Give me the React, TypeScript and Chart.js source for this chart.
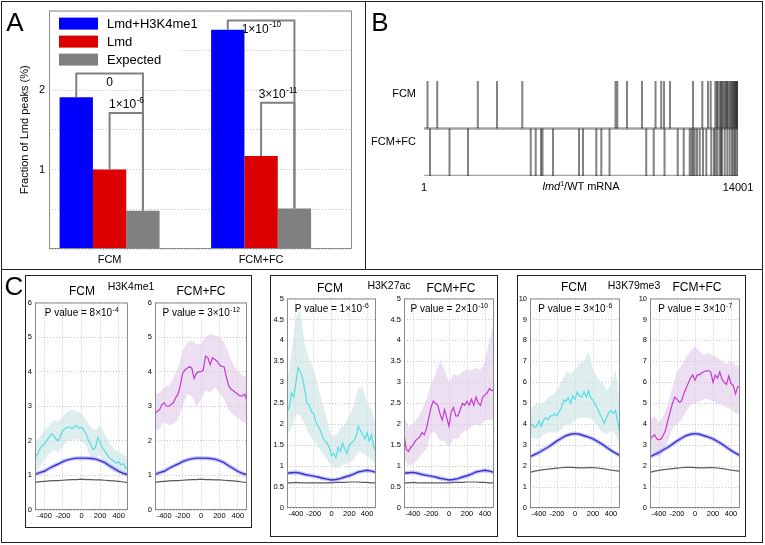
import React, { useEffect, useRef } from 'react';
import { Chart, registerables } from 'chart.js';

Chart.register(...registerables);

const FONT = '"Liberation Sans", Arial, Helvetica, sans-serif';
const GRID = '#c4c4c4';

// ---------------- Panel A data ----------------
const groupNames = ['FCM', 'FCM+FC'];
const groupPos = [1, 2];
const seriesNames = ['Lmd+H3K4me1', 'Lmd', 'Expected'];
const seriesColors = ['#0000ff', '#dd0000', '#808080'];
const fracLmdH3K4me1 = [1.91, 2.76];
const fracLmd = [1.0, 1.17];
const fracExpected = [0.48, 0.51];
const yTicksA = [1, 2];
const bracketGroup = [0, 0, 1, 1];
const bracketFrom = [0, 1, 0, 1];
const bracketTop = [2.21, 1.71, 2.875, 1.84];
const bracketBase = ['0', '1×10', '1×10', '3×10'];
const bracketExp = ['', '-6', '-10', '-11'];
const bracketBelow = [true, false, true, false];

// ---------------- Panel B data ----------------
const rowNames = ['FCM+FC', 'FCM'];
const mrnaRange = [1, 14001];
const peaksFCM = [157, 590, 2400, 3256, 4384, 8540, 8620, 9053, 9722, 10324, 10578, 10703, 10970, 11995, 12410, 12664, 12784, 12990, 13060, 13100, 13190, 13240, 13290, 13350, 13410, 13470, 13510, 13560, 13630, 13680, 13730, 13780, 13820, 13860, 13890, 13920, 13950, 13975, 14000];
const peaksFCMFC = [268, 1138, 1963, 4759, 4982, 5218, 5285, 5753, 6912, 7090, 7684, 7907, 8272, 9909, 10243, 10725, 11313, 11581, 11848, 11928, 11995, 12071, 12174, 12294, 12441, 12588, 12811, 12932, 12999, 13079, 13186, 13244, 13289, 13409, 13525, 13632, 13734, 13801, 13868, 13935, 14001];

// ---------------- Panel C data ----------------
const xTicksC = [-400, -200, 0, 200, 400];
const xMain = [-500, -475, -450, -425, -400, -375, -350, -325, -300, -275, -250, -225, -200, -175, -150, -125, -100, -75, -50, -25, 0, 25, 50, 75, 100, 125, 150, 175, 200, 225, 250, 275, 300, 325, 350, 375, 400, 425, 450, 475, 500];
const xBand = [-500, -450, -400, -350, -300, -250, -200, -150, -100, -50, 0, 50, 100, 150, 200, 250, 300, 350, 400, 450, 500];

const marks = ['H3K4me1', 'H3K27ac', 'H3K79me3'];
const pBase = ['8×10', '3×10', '1×10', '2×10', '3×10', '3×10'];
const pExp = ['-4', '-12', '-6', '-10', '-6', '-7'];

const k4Fcm = [1.5, 1.6, 1.75, 1.85, 1.9, 2.0, 2.1, 2.2, 2.15, 2.05, 2.0, 2.15, 2.3, 2.35, 2.4, 2.4, 2.35, 2.4, 2.45, 2.35, 2.4, 2.3, 2.2, 2.0, 1.9, 1.75, 1.8, 2.1, 1.95, 1.8, 1.7, 1.6, 1.5, 1.45, 1.4, 1.35, 1.4, 1.3, 1.35, 1.2, 1.25];
const k4FcmHi = [1.95, 2.1, 2.3, 2.45, 2.6, 2.55, 2.7, 2.85, 2.9, 2.85, 2.8, 2.6, 2.4, 2.3, 2.45, 2.2, 1.95, 1.75, 1.7, 1.6, 1.55];
const k4FcmLo = [1.1, 1.25, 1.45, 1.6, 1.75, 1.65, 1.85, 2.0, 2.0, 2.05, 2.0, 1.85, 1.5, 1.45, 1.6, 1.35, 1.2, 1.1, 1.1, 1.05, 1.0];
const k4Fc = [2.8, 2.85, 2.9, 3.05, 3.1, 3.0, 3.0, 3.05, 3.1, 3.25, 3.35, 3.6, 3.95, 4.05, 4.1, 4.15, 4.1, 3.8, 3.95, 4.0, 4.0, 4.05, 4.45, 4.4, 4.2, 4.4, 4.35, 4.3, 4.2, 4.15, 4.15, 3.85, 3.6, 3.5, 3.45, 3.4, 3.35, 3.3, 3.3, 3.35, 3.15];
const k4FcHi = [3.35, 3.4, 3.55, 3.6, 3.8, 4.1, 4.6, 4.85, 4.9, 4.8, 4.8, 5.0, 5.1, 5.05, 5.0, 4.85, 4.55, 4.2, 4.0, 3.9, 3.85];
const k4FcLo = [2.3, 2.35, 2.55, 2.45, 2.5, 2.6, 3.0, 3.35, 3.3, 3.0, 3.2, 3.45, 3.4, 3.55, 3.4, 3.2, 2.9, 2.75, 2.65, 2.55, 2.5];
const k4Blue = [1.03, 1.08, 1.12, 1.2, 1.27, 1.33, 1.4, 1.45, 1.48, 1.5, 1.5, 1.5, 1.49, 1.47, 1.43, 1.37, 1.28, 1.2, 1.12, 1.06, 1.02];
const k4Gray = [0.8, 0.82, 0.83, 0.84, 0.85, 0.85, 0.86, 0.87, 0.88, 0.88, 0.89, 0.88, 0.88, 0.87, 0.87, 0.86, 0.85, 0.84, 0.83, 0.81, 0.79];

const k27Fcm = [2.3, 2.4, 2.75, 2.65, 3.0, 3.35, 3.25, 3.1, 2.8, 2.5, 2.45, 2.3, 2.25, 2.05, 1.95, 1.85, 1.7, 1.6, 1.55, 1.45, 1.25, 1.3, 1.2, 1.45, 1.35, 1.55, 1.4, 1.3, 1.5, 1.55, 1.6, 1.7, 1.95, 1.85, 1.75, 1.65, 1.8, 1.6, 1.75, 1.45, 1.35];
const k27FcmHi = [3.0, 3.7, 4.55, 4.7, 3.9, 3.55, 3.3, 2.9, 2.5, 2.1, 1.7, 1.75, 1.9, 2.0, 2.2, 2.45, 2.85, 2.9, 2.5, 2.35, 2.0];
const k27FcmLo = [1.75, 1.9, 2.25, 2.2, 2.0, 1.75, 1.6, 1.45, 1.3, 1.15, 1.0, 0.95, 1.0, 1.05, 1.1, 1.15, 1.35, 1.3, 1.25, 1.15, 0.95];
const k27Fc = [1.75, 1.4, 1.35, 1.45, 1.5, 1.6, 1.65, 1.7, 1.8, 1.75, 1.9, 2.15, 2.4, 2.55, 2.5, 2.45, 2.25, 2.1, 2.35, 2.15, 1.95, 2.3, 2.4, 2.2, 2.2, 2.35, 2.5, 2.45, 2.55, 2.45, 2.6, 2.45, 2.65, 2.5, 2.45, 2.65, 2.7, 2.75, 2.85, 2.8, 2.8];
const k27FcHi = [2.2, 1.95, 2.0, 2.15, 2.35, 2.6, 2.95, 3.2, 3.5, 3.3, 3.0, 3.2, 3.15, 3.25, 3.3, 3.3, 3.35, 3.3, 3.5, 4.0, 4.5];
const k27FcLo = [1.2, 1.0, 1.05, 1.15, 1.3, 1.4, 1.8, 1.8, 1.6, 1.6, 1.45, 1.65, 1.65, 1.8, 1.85, 1.95, 2.0, 1.95, 2.1, 2.1, 2.1];
const k27Blue = [0.83, 0.84, 0.85, 0.83, 0.8, 0.78, 0.76, 0.74, 0.71, 0.69, 0.67, 0.68, 0.7, 0.74, 0.77, 0.81, 0.86, 0.88, 0.9, 0.88, 0.85];
const k27Gray = [0.6, 0.6, 0.61, 0.6, 0.6, 0.6, 0.6, 0.6, 0.6, 0.6, 0.6, 0.61, 0.61, 0.61, 0.62, 0.62, 0.62, 0.61, 0.61, 0.6, 0.6];

const k79Fcm = [3.9, 4.0, 3.85, 3.9, 4.15, 3.9, 4.2, 4.3, 4.2, 4.4, 4.4, 4.5, 4.4, 4.6, 4.8, 5.15, 5.1, 5.25, 5.0, 5.35, 5.2, 5.55, 5.35, 5.3, 5.55, 5.3, 5.6, 5.25, 5.15, 4.9, 4.75, 4.5, 4.3, 4.05, 4.3, 4.55, 4.65, 4.5, 4.65, 4.1, 3.55];
const k79FcmHi = [4.7, 4.9, 5.0, 5.0, 5.3, 5.4, 5.6, 6.0, 6.5, 6.4, 6.6, 6.9, 7.0, 7.5, 6.6, 6.2, 6.0, 5.6, 5.9, 6.6, 5.0];
const k79FcmLo = [3.4, 3.3, 3.3, 3.5, 3.6, 3.6, 3.6, 3.75, 4.0, 4.0, 4.2, 4.3, 4.3, 4.3, 4.2, 3.9, 3.6, 3.5, 3.7, 3.5, 2.9];
const k79Fc = [3.3, 3.4, 3.5, 3.3, 3.25, 3.3, 3.5, 3.75, 4.2, 4.6, 5.0, 5.3, 5.2, 5.05, 5.1, 5.45, 5.7, 5.95, 6.2, 6.35, 6.1, 6.35, 6.35, 6.45, 6.5, 6.55, 6.55, 6.5, 6.0, 6.35, 6.2, 6.5, 6.15, 6.0, 5.9, 6.3, 5.95, 5.85, 5.45, 5.8, 5.75];
const k79FcHi = [4.2, 4.4, 4.1, 4.4, 5.0, 5.8, 6.5, 6.8, 7.2, 7.5, 7.7, 7.5, 7.3, 7.4, 7.3, 7.2, 7.0, 6.9, 7.0, 6.8, 6.8];
const k79FcLo = [2.6, 2.6, 2.4, 2.7, 3.2, 3.8, 4.0, 4.2, 4.6, 4.9, 5.0, 5.1, 5.2, 5.2, 5.1, 5.0, 4.9, 4.8, 4.7, 4.5, 4.5];
const k79Blue = [2.45, 2.55, 2.65, 2.78, 2.9, 3.05, 3.2, 3.33, 3.45, 3.52, 3.55, 3.52, 3.45, 3.38, 3.3, 3.18, 3.05, 2.9, 2.75, 2.62, 2.5];
const k79Gray = [1.7, 1.76, 1.8, 1.83, 1.86, 1.88, 1.9, 1.92, 1.94, 1.94, 1.93, 1.92, 1.92, 1.93, 1.93, 1.91, 1.88, 1.85, 1.81, 1.78, 1.75];

// ---------------- helpers ----------------
const xy = (xs: number[], ys: number[]) => xs.map((x, i) => ({ x, y: ys[i] }));

function drawSupText(ctx: any, base: string, exp: string, cx: number, cy: number, size: number) {
  const es = size * 0.68;
  ctx.font = `${size}px ${FONT}`;
  const w1 = ctx.measureText(base).width;
  ctx.font = `${es}px ${FONT}`;
  const w2 = exp ? ctx.measureText(exp).width : 0;
  const x0 = cx - (w1 + w2) / 2;
  ctx.fillStyle = '#000';
  ctx.textAlign = 'left';
  ctx.textBaseline = 'middle';
  ctx.font = `${size}px ${FONT}`;
  ctx.fillText(base, x0, cy);
  if (exp) {
    ctx.font = `${es}px ${FONT}`;
    ctx.fillText(exp, x0 + w1 + 0.5, cy - size * 0.36);
  }
}

const framePlugin = (color: string) => ({
  id: 'frame',
  afterDatasetsDraw(chart: any) {
    const { ctx, chartArea: a } = chart;
    ctx.save();
    ctx.strokeStyle = color;
    ctx.lineWidth = 1;
    ctx.setLineDash([]);
    ctx.strokeRect(a.left + 0.5, a.top + 0.5, a.right - a.left - 1, a.bottom - a.top - 1);
    ctx.restore();
  },
});

const legendPlugin = {
  id: 'legendA',
  afterDatasetsDraw(chart: any) {
    const { ctx, chartArea: a } = chart;
    ctx.save();
    ctx.fillStyle = '#fff';
    ctx.fillRect(a.left + 1, a.top + 1, 131, 59);
    ctx.textBaseline = 'middle';
    ctx.textAlign = 'left';
    ctx.font = `13px ${FONT}`;
    seriesNames.forEach((name, i) => {
      const y = a.top + 7 + i * 18;
      ctx.fillStyle = seriesColors[i];
      ctx.fillRect(a.left + 10, y, 39, 12);
      ctx.fillStyle = '#000';
      ctx.fillText(name, a.left + 58, y + 6.5);
    });
    ctx.restore();
  },
};

const bracketPlugin = {
  id: 'brackets',
  afterDatasetsDraw(chart: any) {
    const { ctx } = chart;
    const ys = chart.scales.y;
    ctx.save();
    ctx.strokeStyle = '#808080';
    ctx.lineWidth = 2;
    bracketGroup.forEach((g, k) => {
      const a = chart.getDatasetMeta(bracketFrom[k]).data[g];
      const b = chart.getDatasetMeta(2).data[g];
      const yt = ys.getPixelForValue(bracketTop[k]);
      ctx.beginPath();
      ctx.moveTo(a.x, a.y);
      ctx.lineTo(a.x, yt);
      ctx.lineTo(b.x, yt);
      ctx.lineTo(b.x, b.y);
      ctx.stroke();
      const cy = bracketBelow[k] ? yt + 9 : yt - 8;
      drawSupText(ctx, bracketBase[k], bracketExp[k], (a.x + b.x) / 2, cy, 12);
    });
    ctx.restore();
  },
};

const pValuePlugin = (base: string, exp: string) => ({
  id: 'pvalue',
  afterDatasetsDraw(chart: any) {
    const { ctx, chartArea: a } = chart;
    ctx.save();
    drawSupText(ctx, 'P value = ' + base, exp, (a.left + a.right) / 2, a.top + 11, 10);
    ctx.restore();
  },
});

// ---------------- configs ----------------
function panelAConfig() {
  const values = [fracLmdH3K4me1, fracLmd, fracExpected];
  return {
    type: 'bar',
    data: {
      datasets: seriesNames.map((name, i) => ({
        label: name,
        data: groupPos.map((x, j) => ({ x, y: values[i][j] })),
        backgroundColor: seriesColors[i],
        borderWidth: 0,
        categoryPercentage: 0.66,
        barPercentage: 1,
        inflateAmount: 0,
      })),
    },
    options: {
      animation: false,
      responsive: false,
      events: [],
      layout: { padding: { left: 0, top: 9, right: 13, bottom: 0 } },
      plugins: { legend: { display: false }, tooltip: { enabled: false } },
      scales: {
        x: {
          type: 'linear', min: 0.6, max: 2.6, offset: false,
          afterBuildTicks: (s: any) => { s.ticks = groupPos.map((v) => ({ value: v })); },
          afterFit: (s: any) => { s.height = 19; },
          ticks: { autoSkip: false, maxRotation: 0, padding: 4, color: '#000', font: { size: 11, family: FONT }, callback: (_v: any, i: number) => groupNames[i] },
          grid: { display: false, offset: false, drawTicks: false },
          border: { display: false },
        },
        y: {
          type: 'linear', min: 0, max: 3,
          afterFit: (s: any) => { s.width = 49; },
          ticks: { stepSize: 0.5, padding: 4, color: '#000', font: { size: 11, family: FONT }, callback: (v: number) => (yTicksA.includes(v) ? String(v) : '') },
          grid: { color: GRID, drawTicks: false },
          border: { display: false, dash: [1, 2] },
          title: { display: true, text: 'Fraction of Lmd peaks (%)', color: '#000', font: { size: 11, family: FONT }, padding: { top: 18, bottom: 0 } },
        },
      },
    },
    plugins: [legendPlugin, bracketPlugin, framePlugin('#8c8c8c')],
  };
}

function panelBConfig() {
  const lineColor = 'rgba(40,40,40,0.58)';
  return {
    type: 'bar',
    data: {
      datasets: [
        { type: 'line', data: [{ x: mrnaRange[0], y: 1 }, { x: mrnaRange[1], y: 1 }], borderColor: '#a3a3a3', borderWidth: 2.5, pointRadius: 0, order: 5 },
        { type: 'line', data: [{ x: mrnaRange[0], y: 0 }, { x: mrnaRange[1], y: 0 }], borderColor: '#a3a3a3', borderWidth: 2.5, pointRadius: 0, order: 5 },
        { type: 'bar', data: peaksFCM.map((p) => ({ x: p, y: [1, 2] })), backgroundColor: lineColor, barThickness: 2, grouped: false, borderWidth: 0, inflateAmount: 0, order: 1 },
        { type: 'bar', data: peaksFCMFC.map((p) => ({ x: p, y: [0, 1] })), backgroundColor: lineColor, barThickness: 2, grouped: false, borderWidth: 0, inflateAmount: 0, order: 1 },
      ],
    },
    options: {
      animation: false,
      responsive: false,
      events: [],
      layout: { padding: { left: 0, top: 21, right: 24, bottom: 0 } },
      plugins: { legend: { display: false }, tooltip: { enabled: false } },
      scales: {
        x: {
          type: 'linear', min: mrnaRange[0], max: mrnaRange[1], offset: false,
          afterBuildTicks: (s: any) => { s.ticks = mrnaRange.map((v) => ({ value: v })); },
          afterFit: (s: any) => { s.height = 34; },
          ticks: { autoSkip: false, maxRotation: 0, padding: 5, color: '#000', font: { size: 11, family: FONT }, callback: (v: number) => String(v) },
          grid: { display: false, offset: false, drawTicks: false },
          border: { display: false },
        },
        y: {
          type: 'linear', min: 0, max: 2,
          afterBuildTicks: (s: any) => { s.ticks = rowNames.map((_n, i) => ({ value: i + 0.72 })); },
          afterFit: (s: any) => { s.width = 58; },
          ticks: { padding: 8, color: '#000', font: { size: 11, family: FONT }, callback: (_v: any, i: number) => rowNames[i] },
          grid: { display: false, drawTicks: false },
          border: { display: false },
        },
      },
    },
  };
}

const AXW = 24, PADT = 7, PADR = 6, AXH = 14;

function profileConfig(p: any) {
  const thin = { pointRadius: 0, tension: 0, fill: false };
  return {
    type: 'line',
    data: {
      datasets: [
        { ...thin, data: xy(xBand, p.lo), borderWidth: 0, borderColor: 'rgba(0,0,0,0)', order: 10 },
        { ...thin, data: xy(xBand, p.hi), borderWidth: 0, borderColor: 'rgba(0,0,0,0)', backgroundColor: p.band, fill: '-1', order: 9 },
        { ...thin, data: xy(xBand, p.gray), borderColor: '#5a5a5a', borderWidth: 1.2, order: 4 },
        { ...thin, data: xy(xBand, p.blue), borderColor: 'rgba(150,150,245,0.55)', borderWidth: 4, order: 3 },
        { ...thin, data: xy(xBand, p.blue), borderColor: '#3434cc', borderWidth: 1.4, order: 2 },
        { ...thin, data: xy(xMain, p.main), borderColor: p.color, borderWidth: 1.2, order: 1 },
      ],
    },
    options: {
      animation: false,
      responsive: false,
      events: [],
      layout: { padding: { left: 0, top: PADT, right: PADR, bottom: 0 } },
      plugins: { legend: { display: false }, tooltip: { enabled: false } },
      scales: {
        x: {
          type: 'linear', min: -500, max: 500,
          afterBuildTicks: (s: any) => { s.ticks = xTicksC.map((v) => ({ value: v })); },
          afterFit: (s: any) => { s.height = AXH; },
          ticks: { autoSkip: false, maxRotation: 0, padding: 1, color: '#000', font: { size: 7.5, family: FONT }, callback: (v: number) => String(v) },
          grid: { color: GRID, drawTicks: false },
          border: { display: false, dash: [1, 2] },
        },
        y: {
          type: 'linear', min: 0, max: p.yMax,
          afterFit: (s: any) => { s.width = AXW; },
          ticks: { stepSize: p.yStep, padding: 3, color: '#000', font: { size: 7.5, family: FONT }, callback: (v: number) => String(v) },
          grid: { color: GRID, drawTicks: false },
          border: { display: false, dash: [1, 2] },
        },
      },
    },
    plugins: [pValuePlugin(p.pb, p.pe), framePlugin('#8a8a8a')],
  };
}

const CYAN = '#55dde2', CYAN_BAND = 'rgba(200,226,226,0.6)';
const MAG = '#c33ccf', MAG_BAND = 'rgba(222,196,232,0.55)';

const profiles = [
  { L: 35, T: 302, R: 128, B: 510, yMax: 6, yStep: 1, main: k4Fcm, hi: k4FcmHi, lo: k4FcmLo, blue: k4Blue, gray: k4Gray, color: CYAN, band: CYAN_BAND, pb: pBase[0], pe: pExp[0] },
  { L: 155, T: 302, R: 247, B: 510, yMax: 6, yStep: 1, main: k4Fc, hi: k4FcHi, lo: k4FcLo, blue: k4Blue, gray: k4Gray, color: MAG, band: MAG_BAND, pb: pBase[1], pe: pExp[1] },
  { L: 287, T: 298, R: 376, B: 508, yMax: 5, yStep: 0.5, main: k27Fcm, hi: k27FcmHi, lo: k27FcmLo, blue: k27Blue, gray: k27Gray, color: CYAN, band: CYAN_BAND, pb: pBase[2], pe: pExp[2] },
  { L: 404, T: 298, R: 494, B: 508, yMax: 5, yStep: 0.5, main: k27Fc, hi: k27FcHi, lo: k27FcLo, blue: k27Blue, gray: k27Gray, color: MAG, band: MAG_BAND, pb: pBase[3], pe: pExp[3] },
  { L: 530, T: 298, R: 620, B: 508, yMax: 10, yStep: 1, main: k79Fcm, hi: k79FcmHi, lo: k79FcmLo, blue: k79Blue, gray: k79Gray, color: CYAN, band: CYAN_BAND, pb: pBase[4], pe: pExp[4] },
  { L: 650, T: 298, R: 740, B: 508, yMax: 10, yStep: 1, main: k79Fc, hi: k79FcHi, lo: k79FcLo, blue: k79Blue, gray: k79Gray, color: MAG, band: MAG_BAND, pb: pBase[5], pe: pExp[5] },
];

// ---------------- components ----------------
function ChartCanvas({ x, y, w, h, build }: { x: number; y: number; w: number; h: number; build: () => any }) {
  const ref = useRef<HTMLCanvasElement | null>(null);
  useEffect(() => {
    if (!ref.current) return;
    const chart = new Chart(ref.current, build());
    return () => chart.destroy();
  }, []);
  return <canvas ref={ref} width={w} height={h} style={{ position: 'absolute', left: x, top: y, width: w, height: h }} />;
}

function Rect({ x, y, w, h }: { x: number; y: number; w: number; h: number }) {
  return <div style={{ position: 'absolute', left: x, top: y, width: w, height: h, border: '1px solid #222', boxSizing: 'border-box', pointerEvents: 'none' }} />;
}

function Line({ x, y, w, h }: { x: number; y: number; w: number; h: number }) {
  return <div style={{ position: 'absolute', left: x, top: y, width: w, height: h, background: '#222', pointerEvents: 'none' }} />;
}

function Txt({ x, y, size, children }: { x: number; y: number; size: number; children: any }) {
  return (
    <div style={{ position: 'absolute', left: x, top: y, transform: 'translate(-50%,-50%)', fontFamily: FONT, fontSize: size, lineHeight: 1, whiteSpace: 'nowrap', color: '#000' }}>
      {children}
    </div>
  );
}

const boxTitles = [
  { f1: 82, f2: 201, m: 131, y: 291, my: 286 },
  { f1: 330, f2: 451, m: 389, y: 288, my: 285 },
  { f1: 574, f2: 697, m: 634, y: 287, my: 285 },
];

export default function App() {
  return (
    <div style={{ position: 'absolute', left: 0, top: 0, width: 765, height: 545, background: '#fff', overflow: 'hidden' }}>
      <ChartCanvas x={0} y={0} w={365} h={268} build={panelAConfig} />
      <ChartCanvas x={366} y={60} w={396} h={150} build={panelBConfig} />
      {profiles.map((p, i) => (
        <ChartCanvas key={i} x={p.L - AXW} y={p.T - PADT} w={p.R - p.L + AXW + PADR} h={p.B - p.T + PADT + AXH} build={() => profileConfig(p)} />
      ))}

      <Rect x={1} y={1} w={762} h={542} />
      <Line x={365} y={1} w={1} h={268} />
      <Line x={1} y={269} w={762} h={1} />
      <Rect x={25} y={275} w={227} h={253} />
      <Rect x={270} y={275} w={228} h={262} />
      <Rect x={517} y={275} w={229} h={262} />

      <Txt x={15} y={22} size={26}>A</Txt>
      <Txt x={380} y={22} size={26}>B</Txt>
      <Txt x={14} y={286} size={26}>C</Txt>

      <Txt x={581} y={186} size={11}>
        <i>lmd</i><span style={{ fontSize: 7, position: 'relative', top: -4 }}>1</span>/WT mRNA
      </Txt>

      {boxTitles.map((b, i) => (
        <React.Fragment key={i}>
          <Txt x={b.f1} y={b.y} size={12}>{groupNames[0]}</Txt>
          <Txt x={b.m} y={b.my} size={10.5}>{marks[i]}</Txt>
          <Txt x={b.f2} y={b.y} size={12}>{groupNames[1]}</Txt>
        </React.Fragment>
      ))}
    </div>
  );
}
